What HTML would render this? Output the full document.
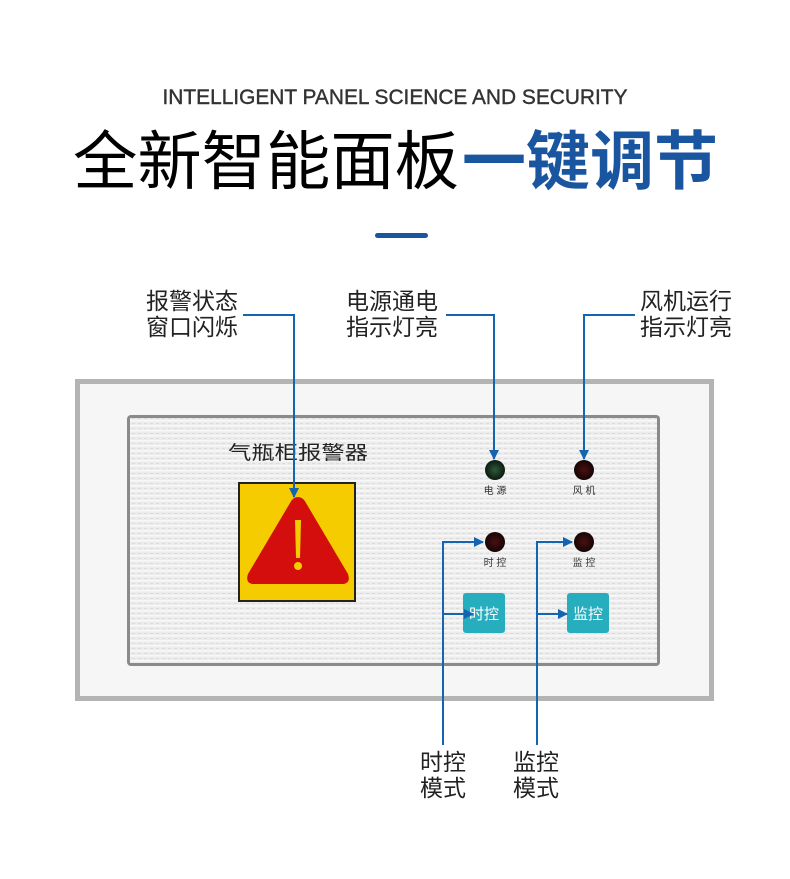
<!DOCTYPE html>
<html><head><meta charset="utf-8"><style>
html,body{margin:0;padding:0;background:#fff;}
svg{display:block;}
</style></head><body>
<svg width="790" height="879" viewBox="0 0 790 879" xmlns="http://www.w3.org/2000/svg">
<defs>
<pattern id="stripes" width="6" height="5" patternUnits="userSpaceOnUse">
<rect width="6" height="5" fill="#ececec"/>
<rect y="0" width="6" height="1.5" fill="#f8f8f8"/>
<rect x="0" y="3" width="3" height="0.8" fill="#d8d8d8"/>
</pattern>
<marker id="arr" viewBox="0 0 10 10" refX="9" refY="5" markerWidth="5" markerHeight="5" orient="auto"><path d="M0,0 L10,5 L0,10 z" fill="#1464b0"/></marker>
<radialGradient id="g1"><stop offset="0" stop-color="#2e5a3a"/><stop offset="1" stop-color="#0c1a10"/></radialGradient>
<radialGradient id="r1"><stop offset="0" stop-color="#4a1010"/><stop offset="1" stop-color="#150505"/></radialGradient>
</defs>
<text x="395" y="104" text-anchor="middle" font-family="Liberation Sans, sans-serif" font-size="21" fill="#333" stroke="#333" stroke-width="0.4" textLength="465" lengthAdjust="spacingAndGlyphs">INTELLIGENT PANEL SCIENCE AND SECURITY</text>
<text x="73" y="184" font-family="Liberation Sans, Noto Sans CJK SC, sans-serif" font-size="64" fill="#000" textLength="386" lengthAdjust="spacingAndGlyphs">全新智能面板</text>
<text x="462" y="184" font-family="Liberation Sans, Noto Sans CJK SC, sans-serif" font-size="64" font-weight="bold" fill="#1a56a0" textLength="256" lengthAdjust="spacingAndGlyphs">一键调节</text>
<rect x="375" y="233" width="53" height="5" rx="2.5" fill="#1a56a0"/>

<g font-family="Liberation Sans, Noto Sans CJK SC, sans-serif" font-size="23" fill="#222">
<text x="238" y="309" text-anchor="end">报警状态</text>
<text x="238" y="335" text-anchor="end">窗口闪烁</text>
<text x="346" y="309">电源通电</text>
<text x="346" y="335">指示灯亮</text>
<text x="640" y="309">风机运行</text>
<text x="640" y="335">指示灯亮</text>
<text x="420" y="770">时控</text>
<text x="420" y="796">模式</text>
<text x="513" y="770">监控</text>
<text x="513" y="796">模式</text>
</g>

<!-- panel -->
<rect x="75" y="379" width="639" height="322" fill="#b4b4b4"/>
<rect x="80" y="384" width="629" height="312" fill="#f6f6f6"/>
<rect x="127" y="415" width="533" height="251" rx="4" fill="#8a8a8a"/>
<rect x="130" y="418" width="527" height="245" fill="url(#stripes)"/>
<text x="228" y="459" font-family="Liberation Sans, Noto Sans CJK SC, sans-serif" font-size="19" fill="#222" textLength="140" lengthAdjust="spacingAndGlyphs">气瓶柜报警器</text>
<rect x="238" y="482" width="118" height="120" fill="#222"/>
<rect x="240" y="484" width="114" height="116" fill="#f5cc00"/>
<path d="M298,497 Q303,497 306,503 L348,574 Q351,583 343,584 L253,584 Q245,583 248,574 L290,503 Q293,497 298,497 Z" fill="#d40d0d"/>
<path d="M295,520 L301,520 L300,558 L296,558 Z" fill="#f5cc00"/>
<circle cx="298" cy="566" r="4" fill="#f5cc00"/>

<circle cx="495" cy="470" r="10" fill="url(#g1)"/>
<circle cx="584" cy="470" r="10" fill="url(#r1)"/>
<circle cx="495" cy="542" r="10" fill="url(#r1)"/>
<circle cx="584" cy="542" r="10" fill="url(#r1)"/>
<g font-family="Liberation Sans, Noto Sans CJK SC, sans-serif" font-size="10" fill="#333" text-anchor="middle">
<text x="495" y="494">电 源</text>
<text x="584" y="494">风 机</text>
<text x="495" y="566">时 控</text>
<text x="584" y="566">监 控</text>
</g>
<rect x="463" y="593" width="42" height="40" rx="3" fill="#26aebf"/>
<rect x="567" y="593" width="42" height="40" rx="3" fill="#26aebf"/>
<g font-family="Liberation Sans, Noto Sans CJK SC, sans-serif" font-size="15" fill="#fff" text-anchor="middle">
<text x="484" y="619">时控</text>
<text x="588" y="619">监控</text>
</g>

<g stroke="#1464b0" stroke-width="2" fill="none">
<polyline points="243,315 294,315 294,497" marker-end="url(#arr)"/>
<polyline points="446,315 494,315 494,459" marker-end="url(#arr)"/>
<polyline points="635,315 584,315 584,459" marker-end="url(#arr)"/>
<polyline points="443,745 443,542 483,542" marker-end="url(#arr)"/>
<polyline points="443,614 473,614" marker-end="url(#arr)"/>
<polyline points="537,745 537,542 572,542" marker-end="url(#arr)"/>
<polyline points="537,614 567,614" marker-end="url(#arr)"/>
</g>
</svg>
</body></html>
